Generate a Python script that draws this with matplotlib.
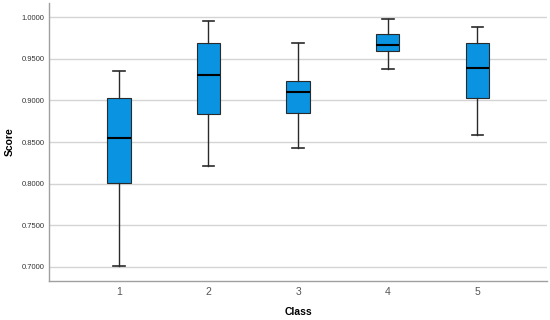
import matplotlib
matplotlib.use('Agg')
import matplotlib.pyplot as plt
from matplotlib.ticker import FormatStrFormatter

# box statistics (per class)
classes = [1, 2, 3, 4, 5]
whislo = [0.7012, 0.8216, 0.8432, 0.9376, 0.8580]
q1 = [0.8010, 0.8840, 0.8848, 0.9588, 0.9032]
med = [0.8550, 0.9308, 0.9100, 0.9668, 0.9392]
q3 = [0.9028, 0.9684, 0.9232, 0.9800, 0.9688]
whishi = [0.9350, 0.9960, 0.9690, 0.9980, 0.9880]
y_ticks = [0.70, 0.75, 0.80, 0.85, 0.90, 0.95, 1.00]

plt.rcParams['font.family'] = ['Liberation Sans', 'DejaVu Sans']

stats = []
for i, c in enumerate(classes):
    stats.append({'label': str(c), 'whislo': whislo[i], 'q1': q1[i], 'med': med[i],
                  'q3': q3[i], 'whishi': whishi[i], 'fliers': []})

fig = plt.figure(figsize=(5.5, 3.2), dpi=100)
ax = fig.add_axes([0.089, 0.122, 0.906, 0.868])

ax.bxp(stats, positions=classes, widths=0.26, patch_artist=True, showfliers=False,
       boxprops=dict(facecolor='#0a93e0', edgecolor='#2a2a2a', linewidth=0.8),
       medianprops=dict(color='black', linewidth=1.5),
       whiskerprops=dict(color='#2a2a2a', linewidth=1.0),
       capprops=dict(color='#2a2a2a', linewidth=1.2),
       capwidths=0.13, zorder=3)

ax.set_xlim(0.22, 5.78)
ax.set_ylim(0.6832, 1.0168)
ax.set_yticks(y_ticks)
ax.yaxis.set_major_formatter(FormatStrFormatter('%.4f'))
ax.grid(axis='y', color='#d4d4d4', linewidth=1.0, zorder=0)
ax.set_axisbelow(True)

for s in ['top', 'right']:
    ax.spines[s].set_visible(False)
for s in ['left', 'bottom']:
    ax.spines[s].set_color('#a0a0a0')
    ax.spines[s].set_linewidth(1.0)

ax.tick_params(axis='y', length=0, labelsize=5.5, labelcolor='#333333', pad=3)
ax.tick_params(axis='x', length=0, labelsize=7.5, labelcolor='#555555', pad=4)

ax.set_xlabel('Class', fontsize=7.5, fontweight='bold')
ax.set_ylabel('Score', fontsize=7.5, fontweight='bold')
ax.xaxis.set_label_coords(0.5, -0.095)
ax.yaxis.set_label_coords(-0.068, 0.5)

fig.savefig('out.png', dpi=100)
